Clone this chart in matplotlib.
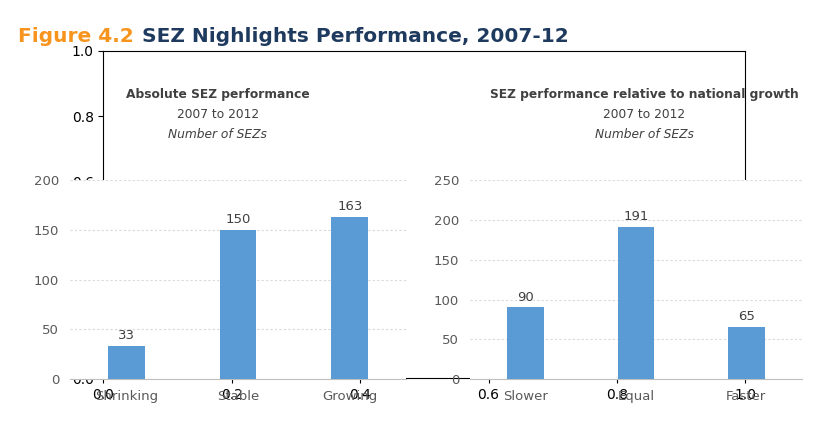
import matplotlib.pyplot as plt

abs_cats = ["Shrinking", "Stable", "Growing"]
abs_vals = [33, 150, 163]
rel_cats = ["Slower", "Equal", "Faster"]
rel_vals = [90, 191, 65]

BAR = "#5B9BD5"
TXT = "#404040"

fig = plt.figure(figsize=(8.28, 4.25), dpi=100)
fig.patch.set_facecolor("white")

t1 = fig.text(0.022, 0.915, "Figure 4.2", color="#F7941D", fontsize=14.5, fontweight="bold",
              va="center")
fig.text(0, 0, "  SEZ Nighlights Performance, 2007-12", color="#1F3A5F", fontsize=14.5,
         fontweight="bold", va="center", position=(1, 0.5), transform=None)
fig.texts.pop()
fig.canvas.draw()
ann = plt.annotate("SEZ Nighlights Performance, 2007-12", xy=(1, 0.5), xycoords=t1,
                   xytext=(6, 0), textcoords="offset points", color="#1F3A5F", fontsize=14.5,
                   fontweight="bold", va="center", annotation_clip=False)


def panel(rect, cats, vals, ymax, title, cx):
    ax = fig.add_axes(rect)
    x = range(len(cats))
    ax.bar(x, vals, width=0.33, color=BAR, zorder=3)
    for i, v in zip(x, vals):
        ax.text(i, v + ymax * 0.02, str(v), ha="center", va="bottom", fontsize=9.5, color=TXT)
    ax.set_ylim(0, ymax)
    ax.set_xlim(-0.5, len(cats) - 0.5)
    ax.set_yticks(range(0, ymax + 1, 50))
    ax.set_xticks(list(x))
    ax.set_xticklabels(cats)
    ax.tick_params(length=0, labelsize=9.5, colors="#595959", pad=8)
    ax.grid(axis="y", color="#D9D9D9", linestyle=(0, (2, 2)), linewidth=0.8, zorder=0)
    for s in ["top", "right", "left"]:
        ax.spines[s].set_visible(False)
    ax.spines["bottom"].set_color("#BFBFBF")
    fig.text(cx, 0.77, title, ha="center", fontsize=8.8, fontweight="bold", color=TXT)
    fig.text(cx, 0.722, "2007 to 2012", ha="center", fontsize=8.8, color=TXT)
    fig.text(cx, 0.675, "Number of SEZs", ha="center", fontsize=8.8, style="italic", color=TXT)
    return ax


panel([0.085, 0.108, 0.405, 0.468], abs_cats, abs_vals, 200, "Absolute SEZ performance", 0.263)
panel([0.568, 0.108, 0.400, 0.468], rel_cats, rel_vals, 250,
      "SEZ performance relative to national growth", 0.778)

fig.savefig("out.png", dpi=100)
